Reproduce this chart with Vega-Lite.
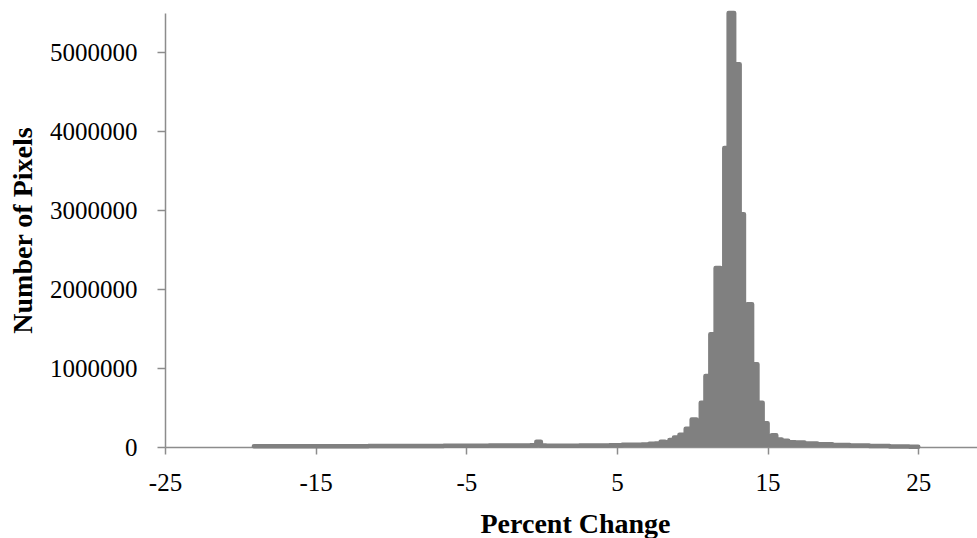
{
  "$schema": "https://vega.github.io/schema/vega-lite/v6.json",
  "width": 812,
  "height": 434,
  "autosize": {"type": "none"},
  "padding": {"left": 165, "top": 13, "right": 0, "bottom": 91},
  "background": "white",
  "config": {"view": {"stroke": null}, "font": "Liberation Serif"},
  "data": {
    "values": [
      {"pct": -19.1, "pixels": 8000},
      {"pct": -18.5, "pixels": 8000},
      {"pct": -18, "pixels": 9000},
      {"pct": -17, "pixels": 9000},
      {"pct": -16, "pixels": 10000},
      {"pct": -15, "pixels": 10000},
      {"pct": -14, "pixels": 10000},
      {"pct": -13, "pixels": 11000},
      {"pct": -12, "pixels": 11000},
      {"pct": -11, "pixels": 12000},
      {"pct": -10, "pixels": 12000},
      {"pct": -9, "pixels": 13000},
      {"pct": -8, "pixels": 13000},
      {"pct": -7, "pixels": 14000},
      {"pct": -6, "pixels": 15000},
      {"pct": -5, "pixels": 16000},
      {"pct": -4, "pixels": 17000},
      {"pct": -3, "pixels": 18000},
      {"pct": -2, "pixels": 19000},
      {"pct": -1, "pixels": 20000},
      {"pct": -0.5, "pixels": 22000},
      {"pct": -0.2, "pixels": 66000},
      {"pct": 0.1, "pixels": 20000},
      {"pct": 0.5, "pixels": 15000},
      {"pct": 1, "pixels": 16000},
      {"pct": 2, "pixels": 17000},
      {"pct": 3, "pixels": 18000},
      {"pct": 4, "pixels": 20000},
      {"pct": 5, "pixels": 22000},
      {"pct": 5.7, "pixels": 28000},
      {"pct": 6.3, "pixels": 30000},
      {"pct": 7, "pixels": 32000},
      {"pct": 7.3, "pixels": 42000},
      {"pct": 7.75, "pixels": 45000},
      {"pct": 8.05, "pixels": 66000},
      {"pct": 8.35, "pixels": 60000},
      {"pct": 8.62, "pixels": 90000},
      {"pct": 8.95, "pixels": 120000},
      {"pct": 9.35, "pixels": 155000},
      {"pct": 9.78, "pixels": 230000},
      {"pct": 10.14, "pixels": 350000},
      {"pct": 10.42, "pixels": 250000},
      {"pct": 10.71, "pixels": 560000},
      {"pct": 11.04, "pixels": 900000},
      {"pct": 11.36, "pixels": 1430000},
      {"pct": 11.74, "pixels": 2270000},
      {"pct": 12.01, "pixels": 1500000},
      {"pct": 12.24, "pixels": 3790000},
      {"pct": 12.59, "pixels": 5500000},
      {"pct": 12.97, "pixels": 4850000},
      {"pct": 13.32, "pixels": 2950000},
      {"pct": 13.54, "pixels": 1400000},
      {"pct": 13.78, "pixels": 1810000},
      {"pct": 14.16, "pixels": 1050000},
      {"pct": 14.49, "pixels": 560000},
      {"pct": 14.85, "pixels": 300000},
      {"pct": 15.15, "pixels": 120000},
      {"pct": 15.41, "pixels": 150000},
      {"pct": 15.74, "pixels": 95000},
      {"pct": 16.14, "pixels": 80000},
      {"pct": 16.6, "pixels": 60000},
      {"pct": 17.1, "pixels": 57000},
      {"pct": 17.8, "pixels": 45000},
      {"pct": 18.8, "pixels": 35000},
      {"pct": 19.8, "pixels": 25000},
      {"pct": 21.1, "pixels": 20000},
      {"pct": 22.4, "pixels": 12000},
      {"pct": 23.8, "pixels": 6000},
      {"pct": 25.0, "pixels": 3000}
    ]
  },
  "encoding": {
    "x": {
      "field": "pct",
      "type": "quantitative",
      "scale": {"domain": [-25, 28.9], "nice": false, "zero": false},
      "axis": {
        "title": "Percent Change",
        "values": [-25, -15, -5, 5, 15, 25],
        "labelExpr": "'' + datum.value",
        "grid": false,
        "domainColor": "#8c8c8c",
        "domainWidth": 1.5,
        "tickColor": "#8c8c8c",
        "tickWidth": 1.5,
        "tickSize": 7,
        "labelFont": "Liberation Serif",
        "labelFontSize": 25,
        "labelColor": "#000000",
        "labelBaseline": "alphabetic",
        "labelPadding": 36,
        "labelFlush": false,
        "labelOverlap": false,
        "titleFont": "Liberation Serif",
        "titleFontSize": 28,
        "titleFontWeight": "bold",
        "titleColor": "#000000",
        "titleBaseline": "alphabetic",
        "titleX": 410,
        "titleY": 85
      }
    },
    "y": {
      "field": "pixels",
      "type": "quantitative",
      "scale": {"domain": [0, 5500000], "nice": false},
      "axis": {
        "title": "Number of Pixels",
        "values": [0, 1000000, 2000000, 3000000, 4000000, 5000000],
        "format": "d",
        "grid": false,
        "domainColor": "#8c8c8c",
        "domainWidth": 1.5,
        "tickColor": "#8c8c8c",
        "tickWidth": 1.5,
        "tickSize": 8,
        "labelFont": "Liberation Serif",
        "labelFontSize": 25,
        "labelColor": "#000000",
        "labelBaseline": "middle",
        "labelPadding": 20,
        "labelOverlap": false,
        "titleFont": "Liberation Serif",
        "titleFontSize": 28,
        "titleFontWeight": "bold",
        "titleColor": "#000000",
        "titleAngle": -90,
        "titleAlign": "center",
        "titleBaseline": "alphabetic",
        "titleX": -134,
        "titleY": 217
      }
    }
  },
  "layer": [
    {"mark": {"type": "area", "interpolate": "step", "color": "#808080"}},
    {"mark": {"type": "line", "interpolate": "step", "color": "#808080", "strokeWidth": 4.5, "strokeJoin": "round", "strokeCap": "round"}}
  ]
}
